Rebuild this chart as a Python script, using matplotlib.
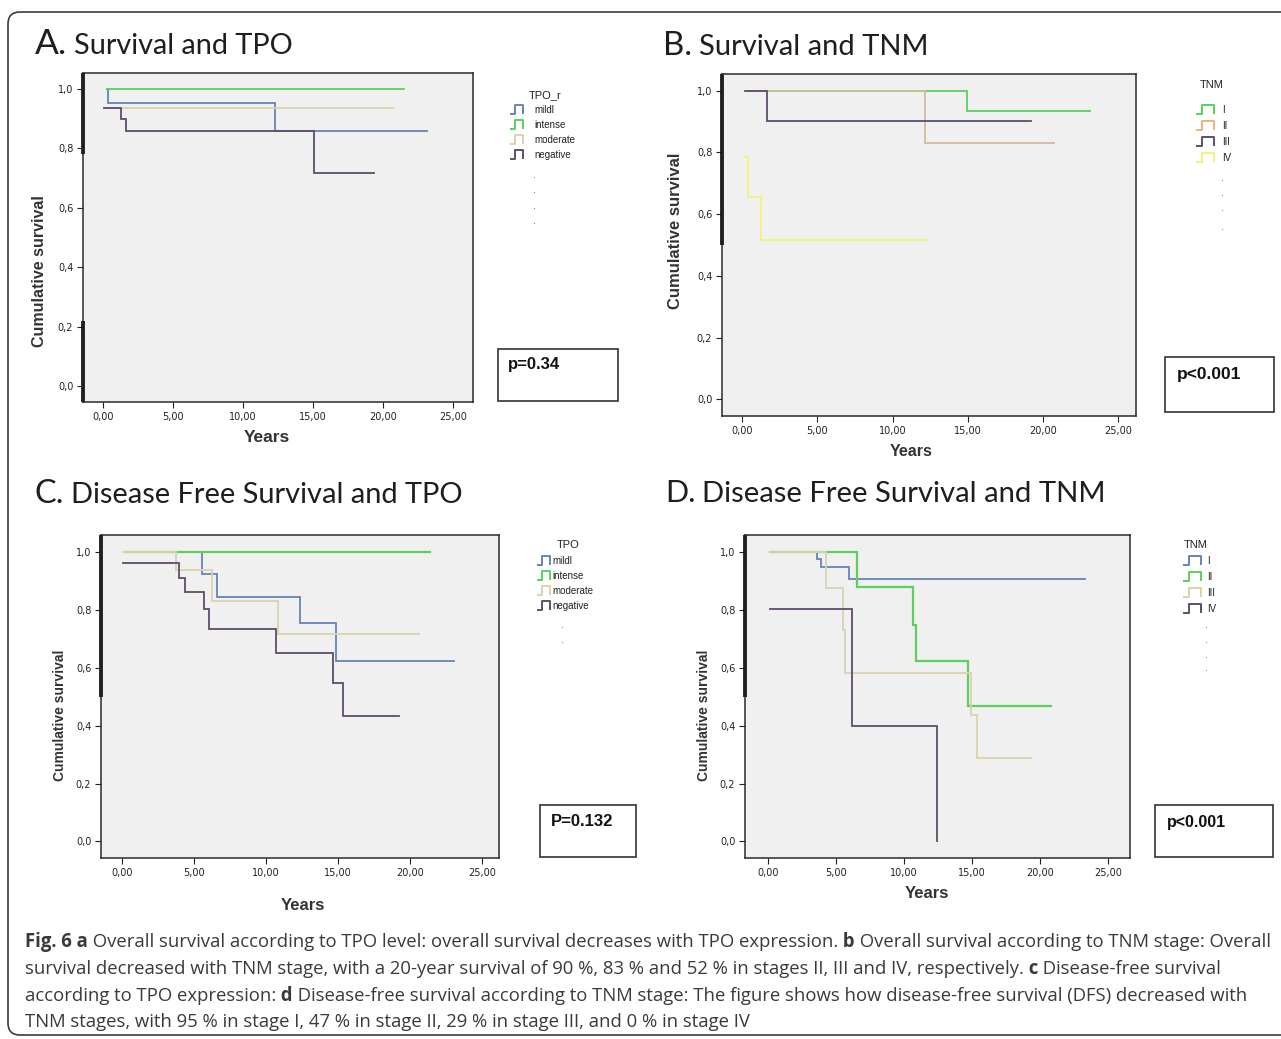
import matplotlib
matplotlib.use("Agg")
import matplotlib.pyplot as plt
from matplotlib.lines import Line2D
from matplotlib.patches import FancyBboxPatch, Rectangle
from matplotlib.transforms import Affine2D

W, H = 1281, 1039

# ---- Kaplan-Meier step curves: time (years) / cumulative survival ----
# A. Survival and TPO
a_mild_t = [0.3, 0.35, 12.24, 23.1]
a_mild_s = [1.0, 0.952, 0.859, 0.859]
a_intense_t = [0.3, 21.45]
a_intense_s = [1.0, 1.0]
a_moderate_t = [0.1, 20.7]
a_moderate_s = [0.937, 0.937]
a_negative_t = [0.1, 1.26, 1.67, 15.07, 19.3]
a_negative_s = [0.937, 0.898, 0.859, 0.716, 0.716]

# B. Survival and TNM
b_i_t = [0.3, 14.93, 23.1]
b_i_s = [1.0, 0.935, 0.935]
b_ii_t = [0.3, 12.16, 20.7]
b_ii_s = [1.0, 0.832, 0.832]
b_iii_t = [0.22, 1.66, 19.2]
b_iii_s = [1.0, 0.901, 0.901]
b_iv_t = [0.2, 0.4, 1.25, 12.3]
b_iv_s = [0.786, 0.655, 0.516, 0.516]

# C. Disease free survival and TPO
c_mild_t = [0.3, 5.6, 6.6, 12.38, 14.88, 23.08]
c_mild_s = [1.0, 0.925, 0.843, 0.755, 0.623, 0.623]
c_intense_t = [0.3, 21.4]
c_intense_s = [1.0, 1.0]
c_moderate_t = [0.11, 3.75, 6.25, 10.83, 20.67]
c_moderate_s = [1.0, 0.937, 0.831, 0.716, 0.716]
c_negative_t = [0.11, 4.0, 4.4, 5.74, 6.09, 10.69, 14.65, 15.35, 19.28]
c_negative_s = [0.963, 0.910, 0.862, 0.802, 0.732, 0.652, 0.546, 0.433, 0.433]

# D. Disease free survival and TNM
d_i_t = [0.2, 3.62, 3.93, 6.0, 23.3]
d_i_s = [1.0, 0.974, 0.948, 0.906, 0.906]
d_ii_t = [0.2, 6.54, 10.66, 10.86, 14.7, 20.83]
d_ii_s = [1.0, 0.877, 0.747, 0.623, 0.466, 0.466]
d_iii_t = [0.2, 4.29, 5.51, 5.68, 14.95, 15.4, 19.34]
d_iii_s = [1.0, 0.875, 0.730, 0.583, 0.437, 0.287, 0.287]
d_iv_t = [0.2, 6.18, 12.43]
d_iv_s = [0.802, 0.399, 0.0]

tpo_labels = ["mildl", "intense", "moderate", "negative"]
tnm_labels = ["I", "II", "III", "IV"]
x_ticks = [0, 5, 10, 15, 20, 25]
x_ticklabels = ["0,00", "5,00", "10,00", "15,00", "20,00", "25,00"]
y_ticks = [0.0, 0.2, 0.4, 0.6, 0.8, 1.0]
y_ticklabels = ["0,0", "0,2", "0,4", "0,6", "0,8", "1,0"]

BLUE = "#6584b8"
GREEN = "#5ccf5c"
BEIGE = "#d9d3ad"
PURPLE = "#5e4d6b"
TAN = "#cdbd9c"
ORANGE = "#ebb47c"
YELLOW = "#f2f27a"

fig = plt.figure(figsize=(W / 100, H / 100), dpi=100)
fig.patch.set_facecolor("white")
pix = Affine2D().scale(1 / W, -1 / H).translate(0, 1) + fig.transFigure
renderer = fig.canvas.get_renderer()

# outer rounded frame
fig.add_artist(FancyBboxPatch((8, 12), 1300, 1023, boxstyle="round,pad=0,rounding_size=12",
                              transform=pix, fill=False, edgecolor="#3c3c3c", lw=1.2))


def make_axes(l, t, r, b):
    return fig.add_axes([l / W, 1 - b / H, (r - l) / W, (b - t) / H])


def style(ax, xlim, ylim, thick):
    ax.set_facecolor("#f0f0f0")
    ax.set_xlim(xlim)
    ax.set_ylim(ylim)
    ax.set_xticks(x_ticks)
    ax.set_xticklabels(x_ticklabels)
    ax.set_yticks(y_ticks)
    ax.set_yticklabels(y_ticklabels)
    ax.tick_params(direction="out", length=4, width=0.8, labelsize=7, colors="#222222", pad=3)
    for sp in ax.spines.values():
        sp.set_linewidth(1.1)
        sp.set_color("#2a2a2a")
    for y0, y1 in thick:
        ax.plot([0, 0], [y0, y1], transform=ax.get_yaxis_transform(), color="black",
                lw=2.6, clip_on=False, solid_capstyle="butt")


def curve(ax, t, s, color, lw=1.3):
    ax.step(t, s, where="post", color=color, lw=lw, solid_joinstyle="miter")


def fit_text(x, y, s, width, size0=12, **kw):
    t = fig.text(x, y, s, transform=pix, fontsize=size0, **kw)
    w = t.get_window_extent(renderer).width
    t.set_fontsize(size0 * width / w)
    return t


def title(x0, x1, x2, y, letter, text):
    fit_text(x0, y, letter, x1 - x0, family="Lato", va="baseline", color="#1e1e1e")
    fit_text(x1 + 7, y, text, x2 - x1 - 7, family="Lato", va="baseline", color="#1e1e1e")


def labels(xl, yl, size_x, size_y):
    fig.text(xl[0], xl[1], "Years", transform=pix, ha="center", va="center",
             fontsize=size_x, fontweight="bold", color="#333333", family="Liberation Sans")
    fig.text(yl[0], yl[1], "Cumulative survival", transform=pix, ha="center", va="center",
             rotation=90, fontsize=size_y, fontweight="bold", color="#333333", family="Liberation Sans")


def legend(title_xy, x_icon, w_icon, x_text, rows, names, colors, dots_x, dots_y, size=7):
    fig.text(title_xy[0], title_xy[1], title_xy[2], transform=pix, ha="center", va="center",
             fontsize=8, color="#222222", family="Liberation Sans")
    for y, name, c in zip(rows, names, colors):
        xs = [x_icon, x_icon + w_icon * 0.3, x_icon + w_icon * 0.3, x_icon + w_icon, x_icon + w_icon]
        ys = [y + 4, y + 4, y - 5, y - 5, y + 3]
        fig.add_artist(Line2D(xs, ys, transform=pix, color=c, lw=1.4))
        fig.text(x_text, y, name, transform=pix, ha="left", va="center", fontsize=size,
                 color="#222222", family="Liberation Sans")
    for y in dots_y:
        fig.text(dots_x, y, ".", transform=pix, ha="center", va="center", fontsize=7, color="#666666")


def pbox(l, t, r, b, tx, ty, s, size):
    fig.add_artist(Rectangle((l, t), r - l, b - t, transform=pix, fill=False,
                             edgecolor="#333333", lw=1.2))
    fig.text(tx, ty, s, transform=pix, ha="left", va="center", fontsize=size,
             color="#111111", family="Liberation Sans", fontweight="semibold")


# ---------------- A ----------------
axA = make_axes(83, 73, 473, 402)
style(axA, (-1.43, 26.4), (-0.054, 1.054), [(0.78, 1.054), (-0.054, 0.22)])
curve(axA, a_mild_t, a_mild_s, BLUE)
curve(axA, a_intense_t, a_intense_s, GREEN)
curve(axA, a_moderate_t, a_moderate_s, BEIGE)
curve(axA, a_negative_t, a_negative_s, PURPLE)
title(35, 67, 293, 54, "A.", "Survival and TPO")
labels((267, 437), (40, 271), 12.5, 11.5)
legend((545, 95, "TPO_r"), 511, 12, 534, [110, 125, 140, 155], tpo_labels,
       [BLUE, GREEN, BEIGE, PURPLE], 535, [175, 190, 206, 221])
pbox(498, 349, 618, 401, 508, 364, "p=0.34", 12)

# ---------------- B ----------------
axB = make_axes(722, 74, 1136, 416)
style(axB, (-1.33, 26.17), (-0.054, 1.054), [(0.5, 1.054)])
curve(axB, b_i_t, b_i_s, GREEN)
curve(axB, b_ii_t, b_ii_s, TAN)
curve(axB, b_iii_t, b_iii_s, PURPLE)
curve(axB, b_iv_t, b_iv_s, YELLOW)
title(663, 692, 928, 55, "B.", "Survival and TNM")
labels((911, 452), (675, 231), 11.5, 12)
legend((1212, 85, "TNM"), 1197, 17, 1222, [110, 126, 142, 158], tnm_labels,
       [GREEN, ORANGE, PURPLE, YELLOW], 1222, [178, 193, 208, 227])
pbox(1165, 357, 1274, 412, 1177, 375, "p<0.001", 12.5)

# ---------------- C ----------------
axC = make_axes(101, 535, 499, 858)
style(axC, (-1.44, 26.2), (-0.057, 1.058), [(0.5, 1.058)])
curve(axC, c_mild_t, c_mild_s, BLUE)
curve(axC, c_intense_t, c_intense_s, GREEN, lw=1.6)
curve(axC, c_moderate_t, c_moderate_s, BEIGE)
curve(axC, c_negative_t, c_negative_s, PURPLE)
title(35, 64, 462, 503, "C.", "Disease Free Survival and TPO")
labels((303, 906), (60, 715), 12, 10)
legend((568, 545, "TPO"), 538, 12, 552, [561, 576, 591, 606], tpo_labels,
       [BLUE, GREEN, BEIGE, PURPLE], 563, [625, 640])
pbox(540, 805, 636, 857, 551, 821, "P=0.132", 12)

# ---------------- D ----------------
axD = make_axes(745, 535, 1130, 858)
style(axD, (-1.67, 26.6), (-0.057, 1.058), [(0.5, 1.058)])
curve(axD, d_i_t, d_i_s, BLUE)
curve(axD, d_ii_t, d_ii_s, GREEN, lw=1.6)
curve(axD, d_iii_t, d_iii_s, BEIGE)
curve(axD, d_iv_t, d_iv_s, PURPLE)
title(665, 695, 1105, 502, "D.", "Disease Free Survival and TNM")
labels((927, 893), (704, 715), 12, 10)
legend((1196, 545, "TNM"), 1184, 17, 1207, [561, 577, 593, 609], tnm_labels,
       [BLUE, GREEN, BEIGE, PURPLE], 1207, [625, 640, 655, 668])
pbox(1155, 805, 1273, 857, 1167, 822, "p<0.001", 11.5)

# ---------------- caption ----------------
cap_font = ["Open Sans", "DejaVu Sans"]
caption = [
    [("Fig. 6 a", True),
     (" Overall survival according to TPO level: overall survival decreases with TPO expression.", False),
     (" b", True), (" Overall survival according to TNM stage: Overall", False)],
    [("survival decreased with TNM stage, with a 20-year survival of 90 %, 83 % and 52 % in stages II, III and IV, respectively.", False),
     (" c", True), (" Disease-free survival", False)],
    [("according to TPO expression:", False), (" d", True),
     (" Disease-free survival according to TNM stage: The figure shows how disease-free survival (DFS) decreased with", False)],
    [("TNM stages, with 95 % in stage I, 47 % in stage II, 29 % in stage III, and 0 % in stage IV", False)],
]
cap_y = [942, 969, 996, 1022]


def draw_runs(x, y, runs, size):
    arts = []
    for txt, bold in runs:
        t = fig.text(x, y, txt, transform=pix, fontsize=size, family=cap_font,
                     fontweight="bold" if bold else "normal", color="#3a3a3a", va="center", ha="left")
        x += t.get_window_extent(renderer).width
        arts.append(t)
    return x, arts


end, arts = draw_runs(25, cap_y[0], caption[0], 12)
for a in arts:
    a.remove()
cap_size = 12 * (1266 - 25) / (end - 25)
for runs, y in zip(caption, cap_y):
    draw_runs(25, y, runs, cap_size)

fig.savefig("out.png", dpi=100)
